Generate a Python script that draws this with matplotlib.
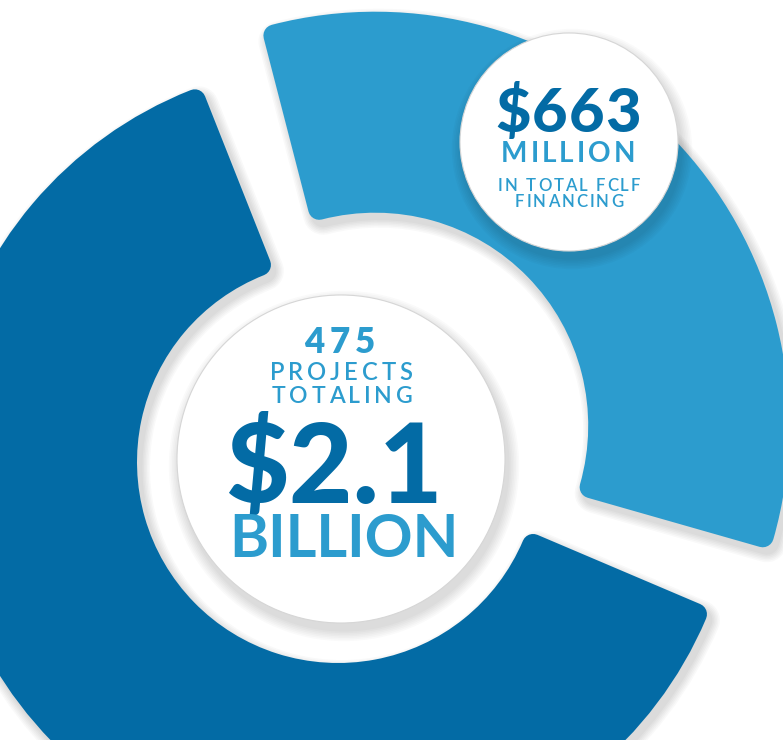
import numpy as np
import matplotlib
matplotlib.use('Agg')
import matplotlib.pyplot as plt
from matplotlib.patches import Wedge, Circle
from matplotlib.font_manager import FontProperties

# ring segments: share of the full circle (percent)
segment_names = ['FCLF financing', 'Other project financing']
segment_share = [35.4, 64.6]

# callout texts
big_lines = ['475', 'PROJECTS', 'TOTALING', '$2.1', 'BILLION']
small_lines = ['$663', 'MILLION', 'IN TOTAL FCLF', 'FINANCING']

LIGHT = '#2C9CCE'
DARK = '#036BA5'
segment_colors = [LIGHT, DARK]

W, H = 783, 740
PT = 72 / 100          # points per pixel at dpi 100
FONT = ['Lato', 'DejaVu Sans']

fig = plt.figure(figsize=(W / 100, H / 100), dpi=100)
ax = fig.add_axes([0, 0, 1, 1])
ax.set_xlim(0, W)
ax.set_ylim(0, H)
ax.axis('off')

# ring layout (pixel units, y up)
cx, cy = 338, H - 462
START = 108            # angle of first boundary, segments go clockwise
GAP = 1.5              # half gap in degrees
RC = 11                # corner radius
OUTER_R = [414, 400]
INNER_R = [213, 201]
EXPLODE = [52, 0]

# work out wedge geometry from the shares
wedges = []
a = START
for i, share in enumerate(segment_share):
    span = share * 3.6
    t2 = a
    t1 = a - span
    a = t1
    mid = np.radians((t1 + t2) / 2)
    ox = cx + EXPLODE[i] * np.cos(mid)
    oy = cy + EXPLODE[i] * np.sin(mid)
    ro, ri = OUTER_R[i], INNER_R[i]
    dth = np.degrees(RC / ((ro + ri) / 2))
    wedges.append(((ox, oy), ro - RC, t1 + GAP + dth, t2 - GAP - dth,
                   ro - ri - 2 * RC, segment_colors[i]))

# soft shadows first
for (c, r, th1, th2, w, col) in wedges:
    for k in range(6, 0, -1):
        ax.add_patch(Wedge((c[0] + 4, c[1] - 6), r, th1, th2, width=w,
                           fc='k', ec='k', lw=(2 * RC + 3 * k) * PT,
                           joinstyle='round', alpha=0.022))

for (c, r, th1, th2, w, col) in wedges:
    ax.add_patch(Wedge(c, r, th1, th2, width=w, fc=col, ec=col,
                       lw=2 * RC * PT, joinstyle='round'))


def white_disc(x, y, r):
    for k in range(7, 0, -1):
        ax.add_patch(Circle((x + 3, y - 7), r + 1.6 * k, fc='k', ec='none',
                            alpha=0.02))
    ax.add_patch(Circle((x, y), r, fc='white', ec='#d6d6d6', lw=0.8))


white_disc(341, H - 459, 164)
white_disc(569, H - 142, 109)

renderer = fig.canvas.get_renderer()


def spaced_text(s, xc, base, cap, width, color, weight):
    size = cap / 0.7165 * PT
    fp = FontProperties(family=FONT, size=size, weight=weight)
    ws = []
    for ch in s:
        if ch == ' ':
            ws.append(size / PT * 0.25)
        else:
            ws.append(renderer.get_text_width_height_descent(ch, fp, ismath=False)[0])
    if sum(ws) >= width:
        # too wide for tracking: one text, shrunk to fit
        full = renderer.get_text_width_height_descent(s, fp, ismath=False)[0]
        fp.set_size(size * min(1.0, width / full))
        ax.text(xc, H - base, s, fontproperties=fp, color=color,
                ha='center', va='baseline')
        return
    track = (width - sum(ws)) / max(len(s) - 1, 1)
    x = xc - width / 2
    for ch, w in zip(s, ws):
        ax.text(x, H - base, ch, fontproperties=fp, color=color,
                ha='left', va='baseline')
        x += w + track


# big circle text
spaced_text(big_lines[0], 340, 353, 25, 71, LIGHT, 'heavy')
spaced_text(big_lines[1], 341, 380, 17, 143, LIGHT, 'semibold')
spaced_text(big_lines[2], 342, 403, 16.5, 141, LIGHT, 'semibold')
spaced_text(big_lines[3], 334, 503, 83, 218, DARK, 'black')
spaced_text(big_lines[4], 344, 557, 44, 230, LIGHT, 'bold')

# small circle text
spaced_text(small_lines[0], 568, 132, 44, 145, DARK, 'black')
spaced_text(small_lines[1], 568, 162, 20, 134, LIGHT, 'bold')
spaced_text(small_lines[2], 569, 191, 12, 142, LIGHT, 'semibold')
spaced_text(small_lines[3], 569, 207, 12, 108, LIGHT, 'semibold')

fig.savefig('out.png', dpi=100, facecolor='white')
